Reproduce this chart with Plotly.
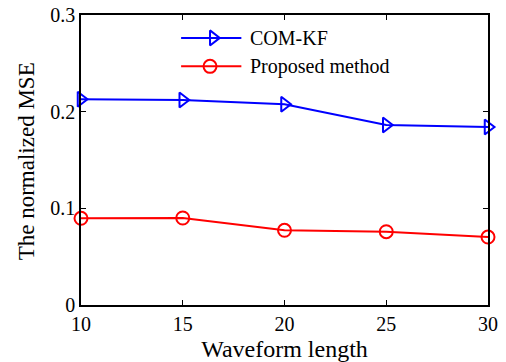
import plotly.graph_objects as go

# Waveform lengths and normalized MSE for each estimator
waveform_length = [10, 15, 20, 25, 30]
com_kf_mse = [0.2128, 0.2120, 0.2076, 0.1862, 0.1841]
proposed_mse = [0.0897, 0.0900, 0.0773, 0.0758, 0.0703]

series_names = ["COM-KF", "Proposed method"]
x_ticks = [10, 15, 20, 25, 30]
y_ticks = [0, 0.1, 0.2, 0.3]
y_tick_text = ["0", "0.1", "0.2", "0.3"]
x_title = "Waveform length"
y_title = "The normalized MSE"

FONT = "Liberation Serif, Times New Roman, serif"
BLUE = "#0000ff"
RED = "#ff0000"

fig = go.Figure()

fig.add_trace(go.Scatter(
    x=waveform_length, y=com_kf_mse, mode="lines+markers", name=series_names[0],
    line=dict(color=BLUE, width=2),
    marker=dict(symbol="triangle-right-open", size=13, color=BLUE, line=dict(width=2, color=BLUE)),
    cliponaxis=False, showlegend=False,
))
fig.add_trace(go.Scatter(
    x=waveform_length, y=proposed_mse, mode="lines+markers", name=series_names[1],
    line=dict(color=RED, width=2),
    marker=dict(symbol="circle-open", size=13, color=RED, line=dict(width=2, color=RED)),
    cliponaxis=False, showlegend=False,
))

# Legend drawn on an overlay axis spanning the plot area (0..1 in both directions)
leg_rows = [0.921, 0.823]
leg_colors = [BLUE, RED]
leg_symbols = ["triangle-right-open", "circle-open"]
leg_marker_x = [0.325, 0.317]
for name, yy, col, sym, mx in zip(series_names, leg_rows, leg_colors, leg_symbols, leg_marker_x):
    fig.add_trace(go.Scatter(
        x=[0.246, 0.394], y=[yy, yy], mode="lines", line=dict(color=col, width=2),
        xaxis="x2", yaxis="y2", showlegend=False, hoverinfo="skip",
    ))
    fig.add_trace(go.Scatter(
        x=[mx], y=[yy], mode="markers",
        marker=dict(symbol=sym, size=13, color=col, line=dict(width=2, color=col)),
        xaxis="x2", yaxis="y2", showlegend=False, hoverinfo="skip",
    ))
    fig.add_annotation(
        x=0.411, y=yy, xref="x2", yref="y2", text=name, showarrow=False,
        xanchor="left", yanchor="middle", font=dict(family=FONT, size=20, color="black"),
    )

# Vertical axis title placed to the left of the tick labels
fig.add_annotation(
    x=-0.133, y=0.495, xref="paper", yref="paper", text=y_title, showarrow=False,
    textangle=-90, xanchor="center", yanchor="middle",
    font=dict(family=FONT, size=23, color="black"),
)

axis_common = dict(
    showline=True, linecolor="black", linewidth=1.5, mirror="ticks",
    ticks="inside", ticklen=5, tickwidth=1, tickcolor="black",
    showgrid=False, zeroline=False, automargin=False,
    tickfont=dict(family=FONT, size=20, color="black"),
)

fig.update_layout(
    width=506, height=362,
    margin=dict(l=81, r=18, t=15, b=57, autoexpand=False),
    paper_bgcolor="white", plot_bgcolor="white",
    xaxis=dict(range=[10, 30], tickvals=x_ticks, **axis_common,
               title=dict(text=x_title, font=dict(family=FONT, size=24, color="black"))),
    yaxis=dict(range=[0, 0.3], tickvals=y_ticks, ticktext=y_tick_text, **axis_common),
    xaxis2=dict(range=[0, 1], overlaying="x", visible=False),
    yaxis2=dict(range=[0, 1], overlaying="y", visible=False),
    showlegend=False,
)

fig.write_html("out.html")
